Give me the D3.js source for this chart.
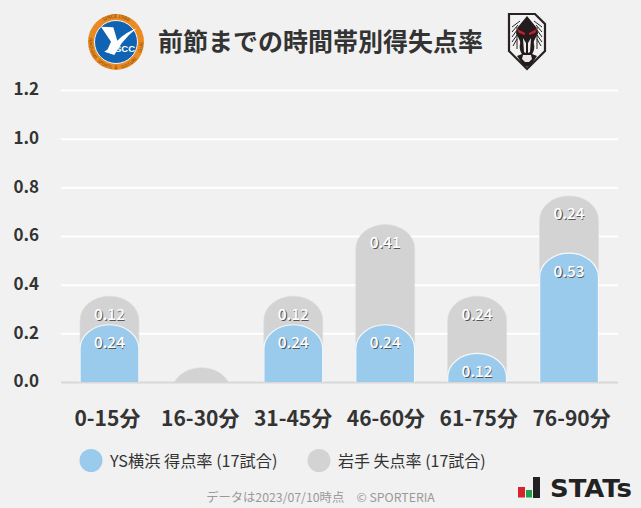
<!DOCTYPE html>
<html><head><meta charset="utf-8">
<script src="https://d3js.org/d3.v7.min.js"></script>
<style>html,body{margin:0;padding:0;background:#f1f1f1}svg{display:block}text{font-family:"Noto Sans CJK JP","Noto Sans",sans-serif}</style>
</head><body><svg id="c" width="641" height="508"></svg>
<script>
const categories=["0-15分","16-30分","31-45分","46-60分","61-75分","76-90分"];
const scored=[0.2353,0,0.2353,0.2353,0.1176,0.5294];
const conceded=[0.1176,0.0588,0.1176,0.4118,0.2353,0.2353];
const yTicks=[0,0.2,0.4,0.6,0.8,1.0,1.2];
const titleText="前節までの時間帯別得失点率";
const legendLabels=["YS横浜 得点率 (17試合)","岩手 失点率 (17試合)"];
const footer="データは2023/07/10時点　© SPORTERIA";
const ringWords=[["YOKOHAMA",-100,-50],["SPORTS",-46,-8],["&",-5,5],["CULTURE",8,55],["CLUB",60,95]];
const hiddenBelow=0.1;
const blue="#9bcbec",grey="#d3d3d3";
const svg=d3.select("#c");
const W=641,H=508;
svg.append("rect").attr("width",W).attr("height",H).attr("fill","#f1f1f1");
const x=d3.scaleBand().domain(categories).range([63.5,615]).paddingInner(0.36).paddingOuter(0.18);
const xLabel=d3.scaleBand().domain(categories).range([61,618]);
const y=d3.scaleLinear().domain([0,1.2]).range([382,90]);
// grid
const grid=svg.append("g").attr("transform","translate(618,0)")
  .call(d3.axisLeft(y).tickValues(yTicks.filter(d=>d>0)).tickSize(557).tickFormat(""));
grid.selectAll("line").attr("stroke","#fff").attr("stroke-width",2);
grid.select(".domain").remove();
svg.append("line").attr("x1",61).attr("x2",618).attr("y1",y(0)+0.5).attr("y2",y(0)+0.5).attr("stroke","#d8d8d8").attr("stroke-width",2);
// y labels
const yax=svg.append("g").attr("transform","translate(39,-1)")
  .call(d3.axisLeft(y).tickValues(yTicks).tickSize(0).tickFormat(d3.format(".1f")));
yax.select(".domain").remove();
yax.selectAll("text").attr("x",0).attr("text-anchor","end").attr("font-size",17).attr("font-weight",700).attr("fill","#333").attr("dy","0.35em").style("font-family",'"Noto Sans CJK JP"');
// bars
const RY=24;
function dome(cx,w,yTop,yBase){
  const rx=w/2;
  const side=yTop+RY;
  return `M${cx-rx},${yBase}L${cx-rx},${side}A${rx},${RY} 0 0 1 ${cx+rx},${side}L${cx+rx},${yBase}Z`;
}
const defs=svg.append("defs");
defs.append("clipPath").attr("id","plot").append("rect").attr("x",0).attr("y",0).attr("width",W).attr("height",y(0));
const bars=svg.append("g").attr("clip-path","url(#plot)");
const bw=x.bandwidth();
categories.forEach((c,i)=>{
  const cx=x(c)+bw/2;
  const total=scored[i]+conceded[i];
  bars.append("path").attr("d",dome(cx,bw,y(total),y(0)+RY)).attr("fill",grey).attr("stroke","#dcdcdc").attr("stroke-width",0.6);
  if(scored[i]>0) bars.append("path").attr("d",dome(cx,bw,y(scored[i]),y(0)+RY)).attr("fill",blue).attr("stroke","#f4f8fb").attr("stroke-width",1.2);
});
// value labels
function vlabel(cx,yy,t){
  const fs=15.5;
  svg.append("text").attr("x",cx+0.9).attr("y",yy+0.9).attr("text-anchor","middle").attr("font-size",fs).attr("fill","#555").text(t);
  svg.append("text").attr("x",cx).attr("y",yy).attr("text-anchor","middle").attr("font-size",fs).attr("font-weight",500).attr("fill","#fff").text(t);
}
categories.forEach((c,i)=>{
  const cx=x(c)+bw/2;
  const total=scored[i]+conceded[i];
  if(scored[i]>=hiddenBelow) vlabel(cx,y(scored[i])+23.5,scored[i].toFixed(2));
  if(conceded[i]>=hiddenBelow) vlabel(cx,y(total)+23.5,conceded[i].toFixed(2));
});
// x labels
const xax=svg.append("g").attr("transform","translate(0,419)").call(d3.axisBottom(xLabel).tickSize(0));
xax.select(".domain").remove();
xax.selectAll("text").attr("y",0).attr("dy","0.35em").attr("font-size",21).attr("font-weight",700).attr("fill","#333").style("font-family",'"Noto Sans CJK JP"');
// title
svg.append("text").attr("x",320.5).attr("y",51).attr("text-anchor","middle").attr("font-size",25).attr("font-weight",700).attr("fill","#333").text(titleText);
// legend
[[91,blue,110,0,16.2],[319,grey,338,1,16]].forEach(([cx,col,tx,i,fs])=>{
  svg.append("circle").attr("cx",cx).attr("cy",460.5).attr("r",11.5).attr("fill",col);
  svg.append("text").attr("x",tx).attr("y",466.5).attr("font-size",fs).attr("fill","#333").text(legendLabels[i]);
});
svg.append("text").attr("x",320.5).attr("y",502).attr("text-anchor","middle").attr("font-size",12.3).attr("fill","#999").text(footer);
// left emblem
const L=svg.append("g").attr("transform","translate(116,42)");
L.append("circle").attr("r",28).attr("fill","#ea8a20");
L.append("circle").attr("r",21.5).attr("fill","#1063b2").attr("stroke","#f4f4f4").attr("stroke-width",1);
defs.append("path").attr("id","arcTop").attr("d","M-24,0A24,24 0 0 1 24,0");
const arc=(id,t,fs)=>L.append("text").attr("font-size",fs).attr("fill","#7a4a18").attr("text-anchor","middle").append("textPath").attr("href",id).attr("startOffset","50%").text(t);
arc("#arcTop","SINCE 1986",5);
const rad=d3.scaleLinear().domain([0,180]).range([0,Math.PI]);
const ringR=27;
ringWords.forEach(([w,a1,a2],i)=>{
  const p=a=>[ringR*Math.sin(rad(a)),ringR*Math.cos(rad(a))];
  const [x1,y1]=p(a1),[x2,y2]=p(a2);
  defs.append("path").attr("id","ring"+i).attr("d",`M${x1},${y1}A${ringR},${ringR} 0 0 0 ${x2},${y2}`);
  arc("#ring"+i,w,4.3);
});
L.append("path").attr("d","M-15,-15.3L-2.7,-14.7L1.3,-1.3Q10,-10 20.7,-13.7Q12,-7 5.7,1.3L-1.7,13L-11.7,9.7L-8.3,7.3L-5,-0.3Z").attr("fill","#fff");
L.append("text").attr("x",9).attr("y",10).attr("text-anchor","middle").attr("font-size",9.5).attr("font-weight",700).attr("fill","#fff").style("font-family","Liberation Sans").text("SCC");
// right emblem
const R=svg.append("g").attr("transform","translate(527,41)");
R.append("path").attr("d","M-18,-27L8,-27L18,-17L18,10L0,28L-18,10Z").attr("fill","#f2f2f2").attr("stroke","#2a2222").attr("stroke-width",2.2);
[-1,1].forEach(s=>{
  const w=R.append("g").attr("transform",`scale(${s},1)`).attr("fill","none").attr("stroke","#2a2222").attr("stroke-width",1);
  w.append("path").attr("d","M7,-20L15,-14");
  w.append("path").attr("d","M9,-16L15,-9");
  w.append("path").attr("d","M10,-11L15,-4");
  w.append("path").attr("d","M10,-6L15,1");
  w.append("path").attr("d","M10,-2L14,5");
  w.append("path").attr("d","M10,-14L10,8");
  w.append("path").attr("d","M3,-2C8,3 7,10 3,14").attr("stroke-width",1.8);
});
R.append("path").attr("d","M0,-25L9,-14L11,-8L7,0L5,13L10,15L4,24L0,26L-4,24L-10,15L-5,13L-7,0L-11,-8L-9,-14Z").attr("fill","#241c1c");
R.append("path").attr("d","M-10,-12L-2,-8L-2,-6L-8,-8Z M10,-12L2,-8L2,-6L8,-8Z").attr("fill","#c8202c");
R.append("path").attr("d","M-4,14L4,14L5,18L2,21L-2,21L-5,18Z").attr("fill","#e8e8e8");
R.append("path").attr("d","M-4,-3L-1,2L-1,12L-3,11Z M4,-3L1,2L1,12L3,11Z").attr("fill","#eee");
// STATS logo
const S=svg.append("g");
S.append("rect").attr("x",518).attr("y",487).attr("width",7).attr("height",10.5).attr("fill","#d8232a");
S.append("rect").attr("x",526).attr("y",490).attr("width",6).attr("height",7.5).attr("fill","#1fa04b");
S.append("rect").attr("x",533).attr("y",477).attr("width",7).attr("height",21).attr("fill","#222");
S.append("text").attr("x",550).attr("y",497).attr("font-size",25).attr("font-weight",700).attr("fill","#222").attr("textLength",82).attr("lengthAdjust","spacingAndGlyphs").style("font-family","DejaVu Sans").text("STATs");
</script></body></html>
